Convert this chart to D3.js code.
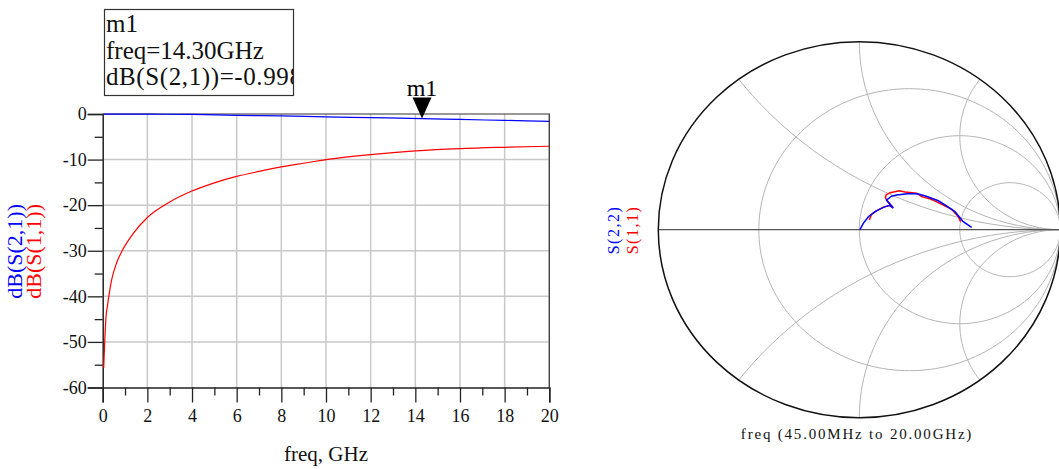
<!DOCTYPE html>
<html>
<head>
<meta charset="utf-8">
<script src="https://cdn.jsdelivr.net/npm/d3@7"></script>
<style>
  body { margin: 0; background: #fff; }
  svg { display: block; }
  text { font-family: "Liberation Serif", "Times New Roman", serif; }
</style>
</head>
<body>
<svg id="chart" width="1059" height="469"></svg>
<script>
// left plot: dB(S(1,1)) and dB(S(2,1)) vs freq
var s11Freq = [0.045, 0.15, 0.21, 0.40, 0.62, 0.85, 1.37, 2, 3, 4, 5, 6, 7, 8, 9, 10, 12, 14, 16, 18, 20];
var s11dB   = [-55.7, -44.4, -42.2, -36.4, -32.7, -30.2, -26.2, -22.7, -19.3, -16.9, -15.1, -13.7, -12.6, -11.6, -10.8, -10.0, -8.9, -8.1, -7.6, -7.3, -7.07];
var s21Freq = [0.045, 2, 4, 6, 8, 10, 12, 14.3, 16, 18, 20];
var s21dB   = [-0.02, -0.04, -0.1, -0.3, -0.4, -0.65, -0.8, -0.998, -1.2, -1.4, -1.6];

var xTicks = [0, 2, 4, 6, 8, 10, 12, 14, 16, 18, 20];
var yTicks = [0, -10, -20, -30, -40, -50, -60];

var markerFreq = 14.3;
var markerLines = ['m1', 'freq=14.30GHz', 'dB(S(2,1))=-0.998'];

// smith chart traces, reflection coefficient (re, im)
var s22Re = [0.003, 0.02, 0.045, 0.078, 0.12, 0.15, 0.169, 0.136, 0.16, 0.186, 0.23, 0.252, 0.294, 0.34, 0.393, 0.43, 0.476, 0.517, 0.559];
var s22Im = [0.0, 0.034, 0.069, 0.096, 0.119, 0.13, 0.115, 0.158, 0.178, 0.185, 0.19, 0.192, 0.19, 0.175, 0.154, 0.13, 0.096, 0.043, 0.012];
var s11Re = [0.05, 0.06, 0.085, 0.12, 0.15, 0.168, 0.14, 0.13, 0.133, 0.153, 0.2, 0.227, 0.285, 0.31, 0.35, 0.393, 0.46, 0.493, 0.504];
var s11Im = [0.052, 0.08, 0.1, 0.12, 0.128, 0.118, 0.15, 0.17, 0.185, 0.197, 0.207, 0.2, 0.194, 0.176, 0.165, 0.144, 0.108, 0.069, 0.043];

var rCircles = [1 / 3, 1, 3];
var xArcs = [0.5, 1, 2, -0.5, -1, -2];

var svg = d3.select('#chart');
var BLUE = '#0000ff', RED = '#ff0000', GRID = '#c8c8c8';

// ---------- left rectangular plot ----------
var x = d3.scaleLinear().domain([0, 20]).range([102.7, 549.3]);
var y = d3.scaleLinear().domain([-60, 0]).range([387.5, 114]);

var plot = svg.append('g');

// grid
plot.selectAll('.vgrid').data(xTicks.slice(1)).enter().append('line')
    .attr('x1', function(d) { return x(d); }).attr('x2', function(d) { return x(d); })
    .attr('y1', y(0)).attr('y2', y(-60))
    .style('stroke', GRID).style('stroke-width', 1.5);
plot.selectAll('.hgrid').data(yTicks.slice(1, -1)).enter().append('line')
    .attr('x1', x(0)).attr('x2', x(20))
    .attr('y1', function(d) { return y(d); }).attr('y2', function(d) { return y(d); })
    .style('stroke', GRID).style('stroke-width', 1.5);

// top / right frame
plot.append('path')
    .attr('d', 'M' + x(0) + ',' + y(0) + 'H' + x(20) + 'V' + y(-60))
    .style('fill', 'none').style('stroke', '#333').style('stroke-width', 1.2);

// axes with outer ticks
var xAxis = d3.axisBottom(x).tickValues(d3.range(0, 21, 1)).tickSize(15)
    .tickFormat(function(d) { return d % 2 === 0 ? d : ''; });
var gx = plot.append('g').attr('transform', 'translate(0,' + y(-60) + ')').call(xAxis);
gx.selectAll('.tick').filter(function(d) { return d % 2 !== 0; }).select('line').attr('y2', 8);

var yAxis = d3.axisLeft(y).tickValues(d3.range(-60, 1, 5)).tickSize(15)
    .tickFormat(function(d) { return d % 10 === 0 ? d : ''; });
var gy = plot.append('g').attr('transform', 'translate(' + x(0) + ',0)').call(yAxis);
gy.selectAll('.tick').filter(function(d) { return d % 10 !== 0; }).select('line').attr('x2', -8);

[gx, gy].forEach(function(g) {
    g.attr('font-family', null);
    g.select('.domain').style('stroke', '#222').style('stroke-width', 1.5);
    g.selectAll('.tick line').style('stroke', '#222').style('stroke-width', 1.3);
    g.selectAll('.tick text').style('font-family', '"Liberation Serif", serif')
        .style('font-size', '18px').style('fill', '#111');
});
gx.selectAll('.tick text').attr('y', 22);
gy.selectAll('.tick text').attr('x', -16);

// curves
var line = d3.line().curve(d3.curveMonotoneX)
    .x(function(d) { return x(d[0]); }).y(function(d) { return y(d[1]); });
plot.append('path')
    .datum(d3.zip(s11Freq, s11dB))
    .attr('d', line)
    .style('fill', 'none').style('stroke', RED).style('stroke-width', 1.2);
plot.append('path')
    .datum(d3.zip(s21Freq, s21dB))
    .attr('d', line)
    .style('fill', 'none').style('stroke', BLUE).style('stroke-width', 1.2);

// marker triangle + label
var mx = x(markerFreq), my = y(s21dB[s21Freq.indexOf(markerFreq)]);
plot.append('path')
    .attr('d', 'M' + (mx - 9.5) + ',' + (my - 21) + 'L' + (mx + 9.5) + ',' + (my - 21) + 'L' + mx + ',' + my + 'Z')
    .style('fill', '#000');
plot.append('text').attr('x', mx).attr('y', my - 23)
    .style('text-anchor', 'middle').style('font-size', '24px').text('m1');

// marker readout box
svg.append('clipPath').attr('id', 'boxclip').append('rect')
    .attr('x', 104).attr('y', 9).attr('width', 189).attr('height', 86);
var box = svg.append('g');
box.append('rect').attr('x', 104.5).attr('y', 9.5).attr('width', 189).attr('height', 86)
    .style('fill', '#fff').style('stroke', '#333').style('stroke-width', 1.2);
box.append('g').attr('clip-path', 'url(#boxclip)')
    .selectAll('text').data(markerLines).enter().append('text')
    .attr('x', 106).attr('y', function(d, i) { return 32 + i * 26.7; })
    .style('font-size', '25px').style('fill', '#111')
    .style('letter-spacing', function(d, i) { return i === 2 ? '0.6px' : null; })
    .text(function(d) { return d; });

// axis titles
svg.append('text').attr('x', 326).attr('y', 461)
    .style('text-anchor', 'middle').style('font-size', '21px').style('fill', '#111')
    .text('freq, GHz');
svg.append('text').attr('transform', 'translate(22,204) rotate(-90)')
    .style('text-anchor', 'end').style('font-size', '22px').style('fill', BLUE)
    .text('dB(S(2,1))');
svg.append('text').attr('transform', 'translate(41,204) rotate(-90)')
    .style('text-anchor', 'end').style('font-size', '22px').style('fill', RED)
    .text('dB(S(1,1))');

// ---------- smith chart ----------
var sx = d3.scaleLinear().domain([-1, 1]).range([658.3, 1060.3]);
var sy = d3.scaleLinear().domain([-1, 1]).range([417.7, 41.7]);
var smith = svg.append('g');

svg.append('clipPath').attr('id', 'smithclip').append('ellipse')
    .attr('cx', sx(0)).attr('cy', sy(0))
    .attr('rx', sx(1) - sx(0)).attr('ry', sy(-1) - sy(0));

var gline = d3.line().x(function(d) { return sx(d[0]); }).y(function(d) { return sy(d[1]); });
function circlePts(cu, cv, r) {
    return d3.range(0, 361, 2).map(function(a) {
        var t = a * Math.PI / 180;
        return [cu + r * Math.cos(t), cv + r * Math.sin(t)];
    });
}
var gridG = smith.append('g').attr('clip-path', 'url(#smithclip)');
rCircles.forEach(function(r) {
    gridG.append('path').datum(circlePts(r / (1 + r), 0, 1 / (1 + r))).attr('d', gline)
        .style('fill', 'none').style('stroke', '#b4b4b4').style('stroke-width', 1);
});
xArcs.forEach(function(xv) {
    gridG.append('path').datum(circlePts(1, 1 / xv, Math.abs(1 / xv))).attr('d', gline)
        .style('fill', 'none').style('stroke', '#b4b4b4').style('stroke-width', 1);
});

smith.append('line')
    .attr('x1', sx(-1)).attr('x2', sx(1)).attr('y1', sy(0)).attr('y2', sy(0))
    .style('stroke', '#555').style('stroke-width', 1.3);
smith.append('ellipse')
    .attr('cx', sx(0)).attr('cy', sy(0))
    .attr('rx', sx(1) - sx(0)).attr('ry', sy(-1) - sy(0))
    .style('fill', 'none').style('stroke', '#111').style('stroke-width', 1.5);

smith.append('path').datum(d3.zip(s11Re, s11Im)).attr('d', gline)
    .style('fill', 'none').style('stroke', RED).style('stroke-width', 1.5);
smith.append('path').datum(d3.zip(s22Re, s22Im)).attr('d', gline)
    .style('fill', 'none').style('stroke', BLUE).style('stroke-width', 1.5);

svg.append('text').attr('x', 857).attr('y', 439)
    .style('text-anchor', 'middle').style('font-size', '15px').style('letter-spacing', '1.8px')
    .style('fill', '#111')
    .text('freq (45.00MHz to 20.00GHz)');
svg.append('text').attr('transform', 'translate(619,230) rotate(-90)')
    .style('text-anchor', 'middle').style('font-size', '16px').style('letter-spacing', '1.5px')
    .style('fill', BLUE).text('S(2,2)');
svg.append('text').attr('transform', 'translate(638,230) rotate(-90)')
    .style('text-anchor', 'middle').style('font-size', '16px').style('letter-spacing', '1.5px')
    .style('fill', RED).text('S(1,1)');
</script>
</body>
</html>
